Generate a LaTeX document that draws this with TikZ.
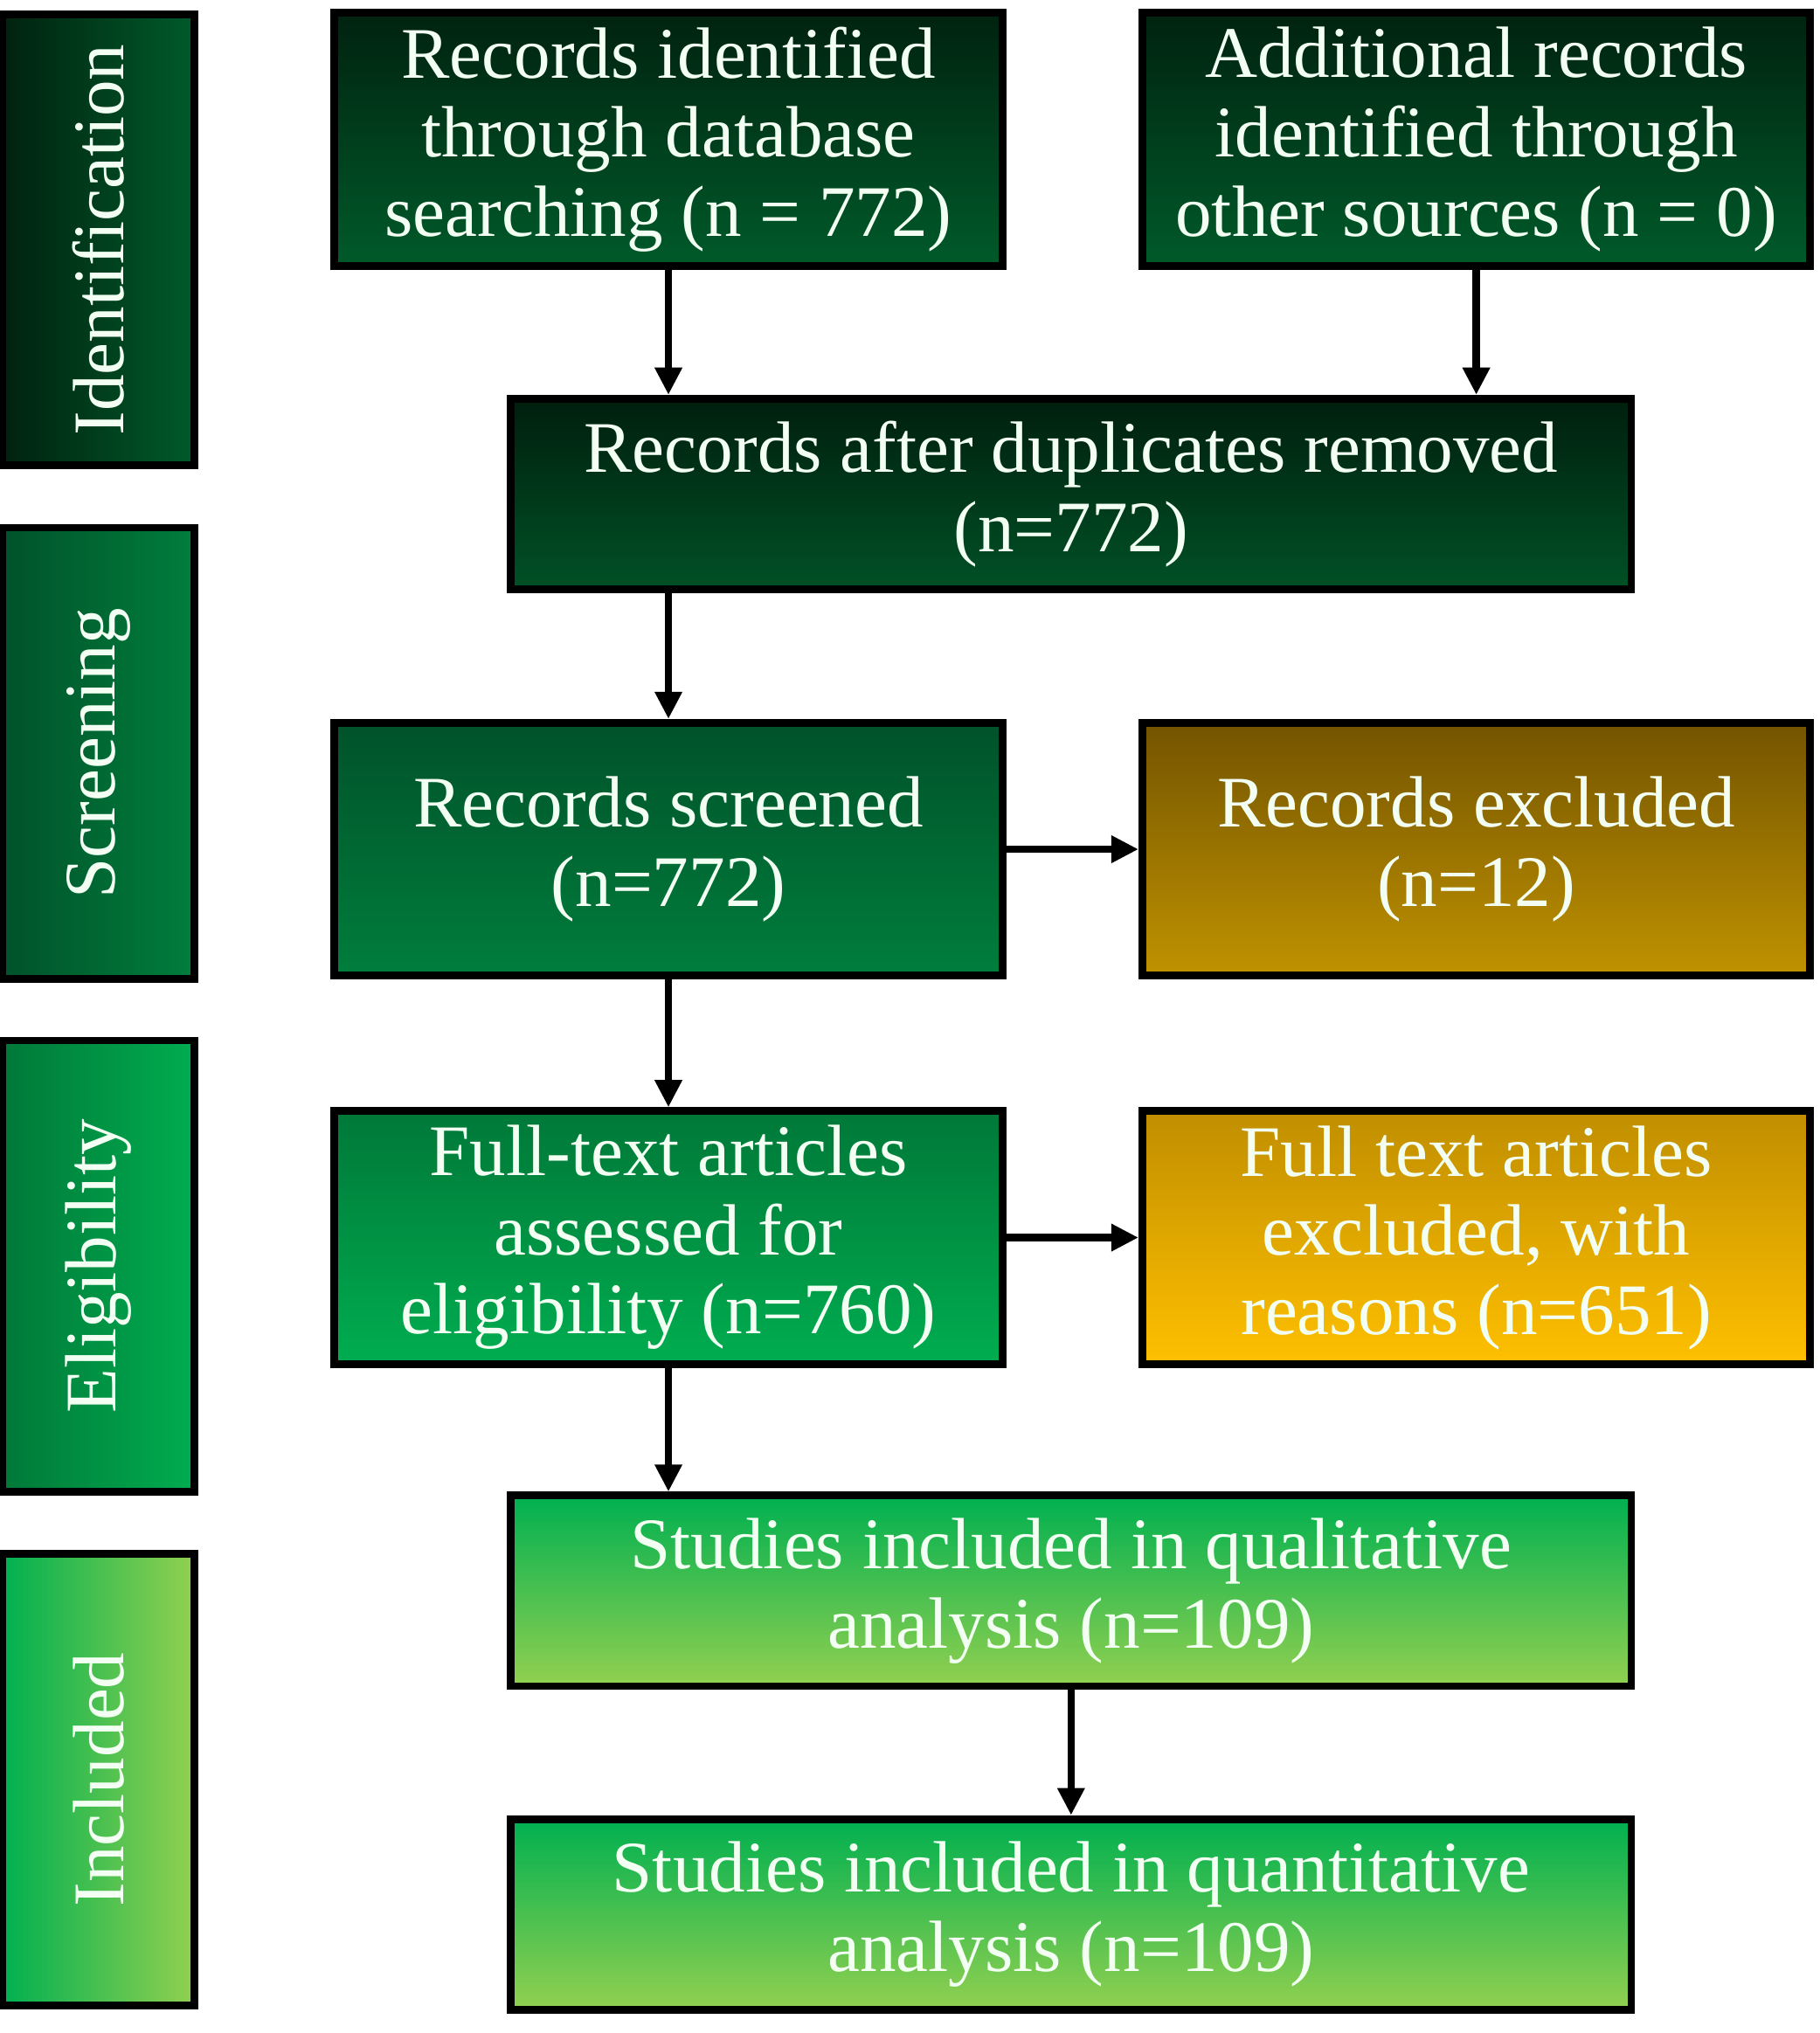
\documentclass[tikz,border=0pt]{standalone}
\usepackage{fontspec}
\setmainfont{Liberation Serif}
\usetikzlibrary{arrows.meta}

\definecolor{txtcol}{HTML}{F2FFF2}
\definecolor{idA}{HTML}{00220F}
\definecolor{idB}{HTML}{005A2A}
\definecolor{scA}{HTML}{00522A}
\definecolor{scB}{HTML}{007E3C}
\definecolor{elA}{HTML}{007838}
\definecolor{elB}{HTML}{00AD50}
\definecolor{inA}{HTML}{00B050}
\definecolor{inB}{HTML}{92D050}
\definecolor{exA}{HTML}{735400}
\definecolor{exB}{HTML}{C09200}
\definecolor{rsA}{HTML}{C08E00}
\definecolor{rsB}{HTML}{FFC000}

\tikzset{
  boxfont/.style={font=\fontsize{28}{30.5}\selectfont},
  stagebox/.style={draw=black, line width=3pt, minimum width=74pt, minimum height=174pt},
  stagetext/.style={boxfont, text=txtcol, rotate=90},
  flowbox/.style={draw=black, line width=3pt, align=center, text=txtcol, boxfont, inner sep=0pt},
  halfbox/.style={flowbox, minimum width=257.5pt, minimum height=97.5pt},
  fullbox/.style={flowbox, minimum width=432pt, minimum height=73.5pt},
  flowarrow/.style={-{Triangle[length=10.5pt,width=10pt]}, line width=2.8pt}
}

\begin{document}
\begin{tikzpicture}[x=0.5pt,y=-0.5pt]
  \useasboundingbox (0,0) rectangle (1403,1568);

  % stage labels on the left
  \node[stagebox, left color=idA, right color=idB] (ident) at (76,185) {};
  \node[stagetext] (identtxt) at (ident) {Identification};
  \node[stagebox, left color=scA, right color=scB] (screen) at (76,581) {};
  \node[stagetext] (screentxt) at (screen) {Screening};
  \node[stagebox, left color=elA, right color=elB] (elig) at (76,976.5) {};
  \node[stagetext] (eligtxt) at (elig) {Eligibility};
  \node[stagebox, left color=inA, middle color=inA!97!inB, right color=inB] (incl) at (76,1372.5) {};
  \node[stagetext] (incltxt) at (incl) {Included};

  % flow boxes
  \node[halfbox, top color=idA, bottom color=idB] (dbrec) at (515.5,107.5)
    {Records identified\\through database\\searching (n = 772)};
  \node[halfbox, top color=idA, bottom color=idB] (otherrec) at (1138.5,107.5)
    {Additional records\\identified through\\other sources (n = 0)};
  \node[fullbox, top color=idA!90!black, bottom color=idB!90!black] (dedup) at (826,381)
    {Records after duplicates removed\\(n=772)};
  \node[halfbox, top color=scA, bottom color=scB] (screened) at (515.5,655)
    {Records screened\\(n=772)};
  \node[halfbox, top color=exA, bottom color=exB] (excluded) at (1138.5,655)
    {Records excluded\\(n=12)};
  \node[halfbox, top color=elA, bottom color=elB] (fulltext) at (515.5,954.5)
    {Full-text articles\\assessed for\\eligibility (n=760)};
  \node[halfbox, top color=rsA, middle color=rsB!95!rsA, bottom color=rsB] (ftexcl) at (1138.5,954.5)
    {Full text articles\\excluded, with\\reasons (n=651)};
  \node[fullbox, top color=inA, middle color=inA!90!inB, bottom color=inB] (qual) at (826,1227)
    {Studies included in qualitative\\analysis (n=109)};
  \node[fullbox, top color=inA, middle color=inA!90!inB, bottom color=inB] (quant) at (826,1476.5)
    {Studies included in quantitative\\analysis (n=109)};

  % connectors
  \draw[flowarrow] (dbrec.south) -- (dbrec.south |- dedup.north);
  \draw[flowarrow] (otherrec.south) -- (otherrec.south |- dedup.north);
  \draw[flowarrow] (screened.north |- dedup.south) -- (screened.north);
  \draw[flowarrow] (screened.east) -- (excluded.west);
  \draw[flowarrow] (screened.south) -- (fulltext.north);
  \draw[flowarrow] (fulltext.east) -- (ftexcl.west);
  \draw[flowarrow] (fulltext.south) -- (fulltext.south |- qual.north);
  \draw[flowarrow] (qual.south) -- (quant.north);
\end{tikzpicture}
\end{document}
